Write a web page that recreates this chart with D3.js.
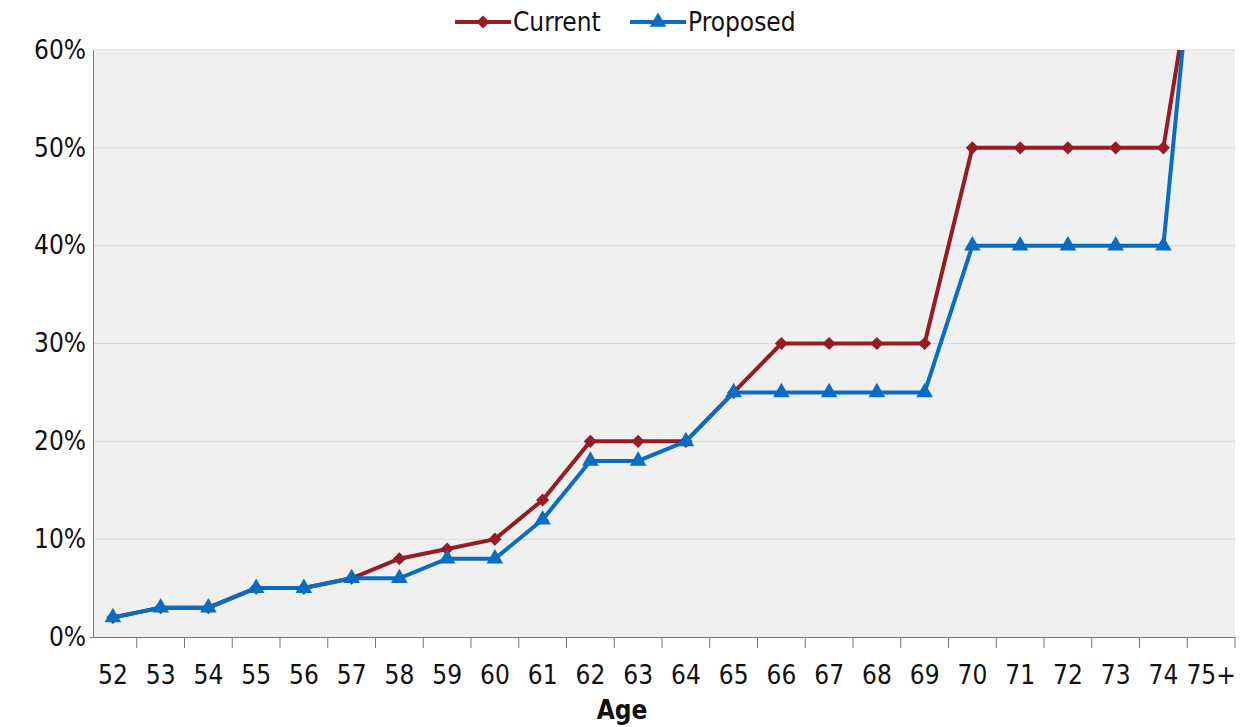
<!DOCTYPE html>
<html><head><meta charset="utf-8">
<script src="https://cdn.jsdelivr.net/npm/d3@7"></script>
<style>
body{margin:0;background:#fff}
text{font-family:"DejaVu Sans Condensed","DejaVu Sans",sans-serif;font-stretch:condensed;fill:#111}
</style></head><body>
<svg id="c" width="1244" height="727"></svg>
<script>
const ages = ['52','53','54','55','56','57','58','59','60','61','62','63','64','65','66','67','68','69','70','71','72','73','74','75+'];
const current = [2,3,3,5,5,6,8,9,10,14,20,20,20,25,30,30,30,30,50,50,50,50,50,80];
const proposed = [2,3,3,5,5,6,6,8,8,12,18,18,20,25,25,25,25,25,40,40,40,40,40,90];
const yTicks = [0,10,20,30,40,50,60];

const m = {l:93, r:1235, t:50, b:637};
const FONT = '"DejaVu Sans Condensed","DejaVu Sans",sans-serif';
const svg = d3.select('#c');
const x = d3.scaleBand().domain(ages).range([89, m.r]);
const y = d3.scaleLinear().domain([0,60]).range([m.b, m.t]);

svg.append('rect').attr('x', m.l).attr('y', m.t).attr('width', m.r-m.l).attr('height', m.b-m.t).attr('fill', '#f0f0f0');
svg.append('clipPath').attr('id','clip').append('rect').attr('x', m.l).attr('y', m.t).attr('width', m.r-m.l).attr('height', m.b-m.t);

svg.selectAll('.grid').data(yTicks.slice(1)).join('line')
  .attr('x1', m.l).attr('x2', m.r).attr('y1', d=>y(d)).attr('y2', d=>y(d))
  .attr('stroke', '#d9d9d9').attr('stroke-width', 1);

const yAxis = svg.append('g').attr('transform', `translate(${m.l},0)`)
  .call(d3.axisLeft(y).tickValues(yTicks).tickFormat(d=>d+'%').tickSize(0).tickPadding(7));
yAxis.select('.domain').attr('stroke', '#777');
yAxis.selectAll('text').attr('font-size', 26).style('font-family', FONT).attr('fill','#111');

const xAxis = svg.append('g').attr('transform', `translate(0,${m.b})`)
  .call(d3.axisBottom(x).tickSize(0).tickPadding(24));
xAxis.select('.domain').attr('stroke', '#777');
xAxis.selectAll('text').attr('font-size', 26).attr('dy','0.9em').style('font-family', FONT).attr('fill','#111');
svg.selectAll('.xt').data(ages.slice(1).concat(['end'])).join('line')
  .attr('x1', (d,i)=>x.range()[0] + (i+1)*x.bandwidth()).attr('x2', (d,i)=>x.range()[0] + (i+1)*x.bandwidth())
  .attr('y1', m.b).attr('y2', m.b+11).attr('stroke', '#777');

svg.append('text').attr('x', 622).attr('y', 719).attr('text-anchor','middle')
  .attr('font-size', 26).attr('font-weight','bold').text('Age');

const line = d3.line().x((d,i)=>x(ages[i]) + x.bandwidth()/2).y(d=>y(d));
const series = [
  {name:'Current', data:current, color:'#951c22', sym:d3.symbolDiamond2, size:110},
  {name:'Proposed', data:proposed, color:'#0a6cc2', sym:d3.symbolTriangle, size:120}
];
const plot = svg.append('g').attr('clip-path','url(#clip)');
series.forEach(s=>{
  plot.append('path').attr('d', line(s.data)).attr('fill','none').attr('stroke', s.color).attr('stroke-width', 4);
  plot.selectAll(null).data(s.data).join('path')
    .attr('transform', (d,i)=>`translate(${x(ages[i]) + x.bandwidth()/2},${y(d)})`)
    .attr('d', d3.symbol(s.sym, s.size)).attr('fill', s.color);
});

const leg = svg.append('g');
const lx = [455, 630];
series.forEach((s,i)=>{
  leg.append('line').attr('x1', lx[i]).attr('x2', lx[i]+56).attr('y1', 22).attr('y2', 22).attr('stroke', s.color).attr('stroke-width', 4);
  leg.append('path').attr('transform', `translate(${lx[i]+28},22)`).attr('d', d3.symbol(s.sym, s.size)()).attr('fill', s.color);
  leg.append('text').attr('x', lx[i]+58).attr('y', 31).attr('font-size', 26).text(s.name);
});
</script></body></html>
